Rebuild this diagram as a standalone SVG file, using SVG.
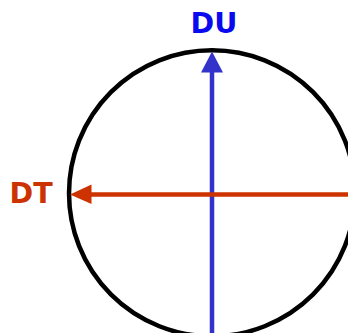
<svg xmlns="http://www.w3.org/2000/svg" width="348" height="333" viewBox="0 0 348 333">
<style>
.lbl{font-family:"DejaVu Sans",sans-serif;font-weight:bold;font-size:28.5px}
</style>
<rect width="348" height="333" fill="#fff"/>
<g id="circle"><circle cx="212" cy="193.3" r="143" fill="none" stroke="#000" stroke-width="4.5"/></g>
<g id="connectors">
<line x1="212" y1="340" x2="212" y2="70" stroke="#3333CC" stroke-width="4.5"/>
<polygon points="212,51.5 201,72.5 223,72.5" fill="#3333CC"/>
<line x1="350" y1="194.5" x2="89" y2="194.5" stroke="#CC3300" stroke-width="4.5"/>
<polygon points="70,194.5 91.5,184.5 91.5,204" fill="#CC3300"/>
</g>
<g id="DU"><text class="lbl" x="214" y="33.3" text-anchor="middle" fill="#0A0AEE">DU</text></g>
<g id="DT"><text class="lbl" x="9.6" y="203.3" fill="#CC3300">DT</text></g>
</svg>
